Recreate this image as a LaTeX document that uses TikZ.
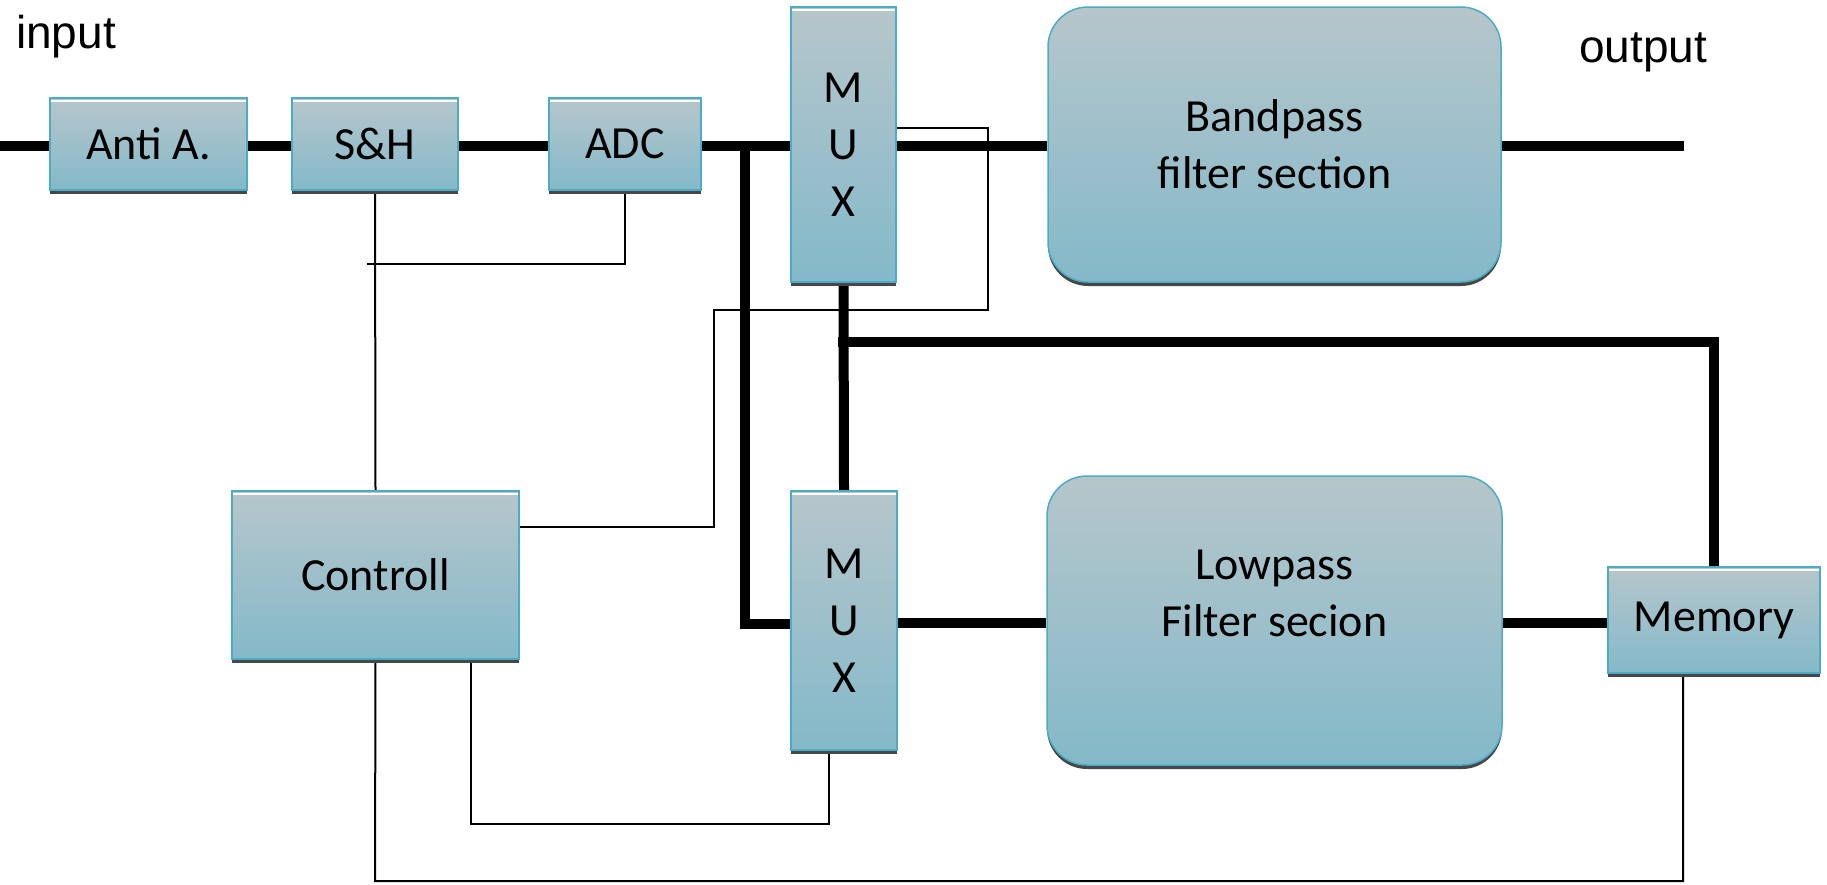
\documentclass[tikz,border=0pt]{standalone}
\usepackage{fontspec}
\setmainfont{Carlito}
\newfontfamily\arialfont{Liberation Sans}
\usetikzlibrary{shadows}
\pgfdeclarelayer{bg}
\pgfsetlayers{bg,main}
\definecolor{boxtop}{HTML}{B6C6CB}
\definecolor{boxbot}{HTML}{84B9C9}
\definecolor{boxline}{HTML}{4BACC6}
\begin{document}
\begin{tikzpicture}[x=1pt,y=-1pt,
  blk/.style={draw=boxline, line width=1.5pt, top color=boxtop, bottom color=boxbot,
    drop shadow={shadow xshift=0pt, shadow yshift=-4pt, fill=black!72, opacity=1},
    font=\fontsize{46}{57}\selectfont, align=center, inner sep=0pt},
  hl/.style={path picture={\draw[white, line width=2.5pt]
    ([yshift=-3pt]path picture bounding box.north west) -- ([yshift=-3pt]path picture bounding box.north east);}},
  rbox/.style={blk, rounded corners=40pt},
  txt/.style={font=\fontsize{46}{57}\selectfont, align=center, inner sep=0pt},
  lbl/.style={font=\arialfont\fontsize{46}{55}\selectfont, inner sep=0pt, anchor=base west},
  thk/.style={line width=10pt},
  thn/.style={line width=2pt}]
\useasboundingbox (0,0) rectangle (1827,884);

% blocks
\node[blk, hl, minimum width=197pt, minimum height=92pt] (anti) at (148.5,144) {Anti A.};
\node[blk, hl, minimum width=166pt, minimum height=92pt] (sh) at (375,144) {S\&H};
\node[blk, hl, minimum width=152pt, minimum height=92pt] (adc) at (625,144) {ADC};
\node[blk, hl, minimum width=105pt, minimum height=275pt] (mux1) at (843.5,144.5) {M\\U\\X};
\node[rbox, minimum width=453pt, minimum height=275pt] (bp) at (1274.5,144.5) {Bandpass\\filter section};
\node[blk, hl, minimum width=287pt, minimum height=168pt] (ctrl) at (375.5,575) {Controll};
\node[blk, hl, minimum width=106pt, minimum height=259pt] (mux2) at (844,620.5) {M\\U\\X};
\node[rbox, minimum width=455pt, minimum height=289pt] (lp) at (1274.5,620.5) {};
\node[txt] (lptext) at ([yshift=27pt]lp.center) {Lowpass\\Filter secion};
\node[blk, hl, minimum width=212pt, minimum height=106pt] (mem) at (1714,620) {Memory};

% labels
\node[lbl] (inlbl) at (16,48) {input};
\node[lbl] (outlbl) at (1579,62) {output};

% coordinates
\coordinate (inp) at (0,146);
\coordinate (out) at (1684,146);
\coordinate (j1) at (745,146);
\coordinate (j2) at (745,624);
\coordinate (j3) at (843,342);
\coordinate (r2) at (0,623);
\coordinate (a1) at (367,264);
\coordinate (c0) at (0,128);
\coordinate (c1) at (988,310);
\coordinate (c2) at (714,527);
\coordinate (b1) at (375,881);
\coordinate (m1) at ([xshift=-31pt]mem.south);
\coordinate (k1) at ([xshift=95.5pt]ctrl.south);
\coordinate (k2) at (829,824);
\coordinate (k3) at (829,733);

\begin{pgfonlayer}{bg}
% thick signal paths
\draw[thk] (inp) -- (anti.west|-inp);
\draw[thk] (anti.east|-inp) -- (sh.west|-inp);
\draw[thk] (sh.east|-inp) -- (adc.west|-inp);
\draw[thk] (adc.east|-inp) -- (mux1.west|-inp);
\draw[thk] (mux1.east|-inp) -- (bp.west|-inp);
\draw[thk] (bp.east|-inp) -- (out);
\draw[thk, line cap=rect, line join=miter] (j1) -- (j2) -- (mux2.west|-j2);
\draw[thk] (mux1.south) -- (mux2.north);
\draw[thk, line cap=rect, line join=miter] (j3) -| (mem.north);
\draw[thk] (mux2.east|-r2) -- (lp.west|-r2);
\draw[thk] (lp.east|-r2) -- (mem.west|-r2);
% thin control paths
\draw[thn] (sh.south) -- (ctrl.north);
\draw[thn] (adc.south) |- (a1);
\draw[thn] (mux1.east|-c0) -| (c1) -| (c2) -- (ctrl.east|-c2);
\draw[thn] (ctrl.south) -- (b1) -| (m1);
\draw[thn] (k1) |- (k2) -- (k3);
\end{pgfonlayer}
\end{tikzpicture}
\end{document}
